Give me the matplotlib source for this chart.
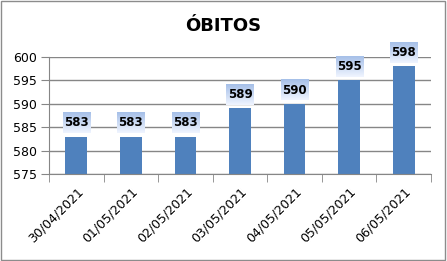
import numpy as np
import matplotlib.pyplot as plt
from matplotlib.patches import Rectangle

dates = ["30/04/2021", "01/05/2021", "02/05/2021", "03/05/2021",
         "04/05/2021", "05/05/2021", "06/05/2021"]
obitos = [583, 583, 583, 589, 590, 595, 598]
y_ticks = [575, 580, 585, 590, 595, 600]

fig = plt.figure(figsize=(4.47, 2.61), dpi=100)
fig.patches.append(Rectangle((0.003, 0.005), 0.993, 0.99, transform=fig.transFigure,
                             fill=False, edgecolor="#8c8c8c", linewidth=1.0))
ax = fig.add_axes([49 / 447, 1 - 174 / 261, (431 - 49) / 447, (174 - 57) / 261])

x = np.arange(len(dates))
ax.bar(x, obitos, width=0.4, color="#4f81bd", zorder=2)

ax.set_yticks(y_ticks)
ax.set_yticklabels([str(v) for v in y_ticks], fontsize=9)
ax.yaxis.grid(True, color="#868686", linewidth=1.0, zorder=0)
ax.set_axisbelow(True)

ax.set_xticks(x)
ax.set_xticklabels(dates, rotation=45, ha="right", va="top", rotation_mode="anchor", fontsize=9)
ax.set_xticks(np.arange(-0.5, len(dates)), minor=True)
ax.tick_params(axis="x", which="major", length=0, pad=8)
ax.tick_params(axis="x", which="minor", length=6, color="#868686", direction="out")
ax.tick_params(axis="y", length=6, color="#868686", direction="out", pad=3)

for s in ["top", "right"]:
    ax.spines[s].set_visible(False)
for s in ["left", "bottom"]:
    ax.spines[s].set_color("#868686")

# caixas dos rótulos com degradê
grad = np.linspace(0, 1, 50).reshape(-1, 1)
top_col = np.array([0.65, 0.75, 0.91])
bot_col = np.array([0.94, 0.96, 1.0])
img = top_col * (1 - grad[..., None]) + bot_col * grad[..., None]
img = img.reshape(50, 1, 3)
for xi, v in zip(x, obitos):
    ax.imshow(img, extent=(xi - 0.25, xi + 0.25, v + 0.8, v + 5.1), aspect="auto",
              zorder=3, clip_on=False, interpolation="bilinear")
    ax.text(xi, v + 2.9, str(v), ha="center", va="center", fontsize=8.5,
            fontweight="bold", zorder=4, clip_on=False)
ax.set_xlim(-0.5, len(dates) - 0.5)
ax.set_ylim(575, 600)

fig.text(0.5, 1 - 26 / 261, "ÓBITOS", ha="center", va="center", fontsize=13, fontweight="bold")

fig.savefig("out.png", dpi=100)
